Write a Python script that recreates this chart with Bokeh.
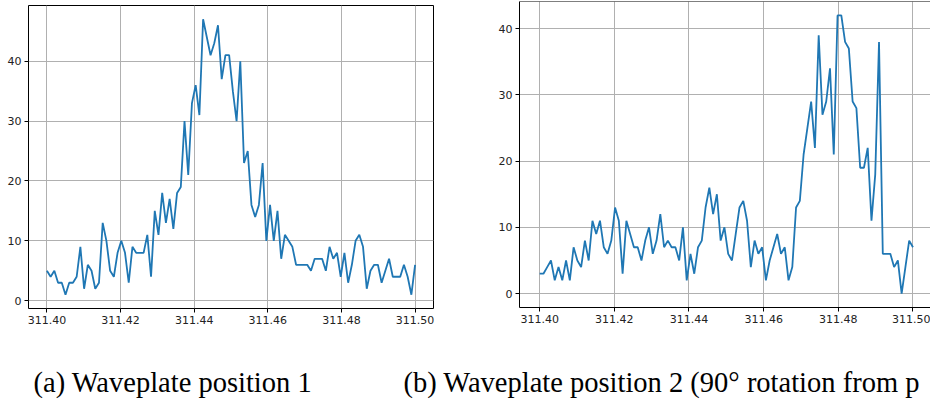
import numpy as np
from bokeh.plotting import figure
from bokeh.models import Range1d, FixedTicker, PrintfTickFormatter, Span
from bokeh.layouts import column, row
from bokeh.embed import file_html
from bokeh.resources import INLINE
from bokeh.core.properties import value

# ---------------- data ----------------
wavelength = np.linspace(311.40, 311.50, 100)

counts_pos1 = [5, 4, 5, 3, 3, 1, 3, 3, 4, 9,
               2, 6, 5, 2, 3, 13, 10, 5, 4, 8,
               10, 8, 3, 9, 8, 8, 8, 11, 4, 15,
               11, 18, 13, 17, 12, 18, 19, 30, 21, 33,
               36, 31, 47, 44, 41, 43, 46, 37, 41, 41,
               35, 30, 40, 23, 25, 16, 14, 16, 23, 10,
               16, 10, 15, 7, 11, 10, 9, 6, 6, 6,
               6, 5, 7, 7, 7, 5, 9, 7, 8, 4,
               8, 3, 6, 10, 11, 9, 2, 5, 6, 6,
               3, 5, 7, 4, 4, 4, 6, 4, 1, 6]

counts_pos2 = [3, 3, 4, 5, 2, 4, 2, 5, 2, 7,
               5, 4, 8, 5, 11, 9, 11, 7, 6, 8,
               13, 11, 3, 11, 9, 7, 7, 5, 8, 10,
               6, 8, 12, 7, 8, 7, 7, 5, 10, 2,
               6, 3, 7, 8, 13, 16, 12, 15, 8, 10,
               6, 5, 9, 13, 14, 11, 4, 8, 6, 7,
               2, 5, 7, 9, 6, 7, 2, 4, 13, 14,
               21, 25, 29, 22, 39, 27, 29, 34, 21, 42,
               42, 38, 37, 29, 28, 19, 19, 22, 11, 18,
               38, 6, 6, 6, 4, 5, 0, 4, 8, 7]

x_ticks = [311.40, 311.42, 311.44, 311.46, 311.48, 311.50]
y_ticks = [0, 10, 20, 30, 40]

# captions as visible in the reference (the second one is cut at the page edge there)
caption_a = "(a) Waveplate position 1"
caption_b = "(b) Waveplate position 2 (90\u00b0 rotation from p"

LINE_COLOR = "#1f77b4"
GRID_COLOR = "#b0b0b0"
TICK_FONT = "DejaVu Sans"


def y_limits(vals):
    lo, hi = min(vals), max(vals)
    pad = 0.05 * (hi - lo)
    return lo - pad, hi + pad


def style(p):
    p.background_fill_color = "white"
    p.border_fill_color = "white"
    p.frame_align = False
    for ax in (p.xaxis[0], p.yaxis[0]):
        ax.major_tick_in = 0
        ax.major_tick_out = 4
        ax.major_tick_line_color = "black"
        ax.major_tick_line_width = 1
        ax.minor_tick_line_color = None
        ax.major_label_text_font = TICK_FONT
        ax.major_label_text_font_size = "11px"
        ax.major_label_text_color = "#222222"
        ax.major_label_standoff = 3
    p.xaxis[0].ticker = FixedTicker(ticks=x_ticks)
    p.xaxis[0].formatter = PrintfTickFormatter(format="%.2f")
    p.yaxis[0].ticker = FixedTicker(ticks=y_ticks)
    p.xgrid[0].ticker = FixedTicker(ticks=x_ticks)
    p.ygrid[0].ticker = FixedTicker(ticks=y_ticks)
    p.grid.grid_line_color = GRID_COLOR
    p.grid.grid_line_width = 1
    p.grid.grid_line_alpha = 1.0


# ---------------- panel (a) ----------------
ya0, ya1 = y_limits(counts_pos1)
p1 = figure(width=480, height=330, title=None,
            x_range=Range1d(311.395, 311.505), y_range=Range1d(ya0, ya1),
            output_backend="svg", toolbar_location=None,
            min_border_left=28, min_border_right=47,
            min_border_top=5, min_border_bottom=22)
style(p1)
p1.xaxis.axis_line_color = None
p1.yaxis.axis_line_color = None
p1.outline_line_color = "black"
p1.outline_line_width = 1
p1.outline_line_alpha = 1.0
p1.line(wavelength, counts_pos1, line_color=LINE_COLOR, line_width=1.8)

# ---------------- panel (b) ----------------
yb0, yb1 = y_limits(counts_pos2)
p2 = figure(width=450, height=330, title=None,
            x_range=Range1d(311.3946, 311.5047), y_range=Range1d(yb0, yb1),
            output_backend="svg", toolbar_location=None,
            min_border_left=39, min_border_right=0,
            min_border_top=1, min_border_bottom=23)
style(p2)
p2.outline_line_color = None
p2.xaxis.axis_line_color = "black"
p2.yaxis.axis_line_color = "black"
p2.xaxis.axis_line_width = 1
p2.yaxis.axis_line_width = 1
p2.add_layout(Span(location=yb1, dimension="width", line_color="black", line_width=1.2))
p2.line(wavelength, counts_pos2, line_color=LINE_COLOR, line_width=1.8)

# ---------------- captions ----------------
cap = figure(width=930, height=73, title=None,
             x_range=Range1d(0, 930), y_range=Range1d(0, 73),
             output_backend="svg", toolbar_location=None,
             x_axis_location=None, y_axis_location=None,
             min_border_left=0, min_border_right=0, min_border_top=0, min_border_bottom=0)
cap.frame_align = False
cap.grid.visible = False
cap.outline_line_color = None
cap.background_fill_color = "white"
cap.border_fill_color = "white"
cap.text(x=[33, 403], y=[21, 21], text=[caption_a, caption_b],
         text_font=value("Liberation Serif"), text_font_size="28.5px",
         text_baseline="alphabetic", text_align="left", text_color="black")

layout = column(row(p1, p2), cap)
open("out.html", "w").write(file_html(layout, INLINE))
